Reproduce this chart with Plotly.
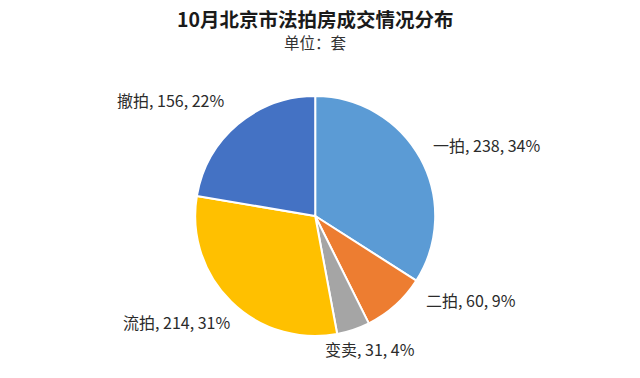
import plotly.graph_objects as go

categories = ["一拍", "二拍", "变卖", "流拍", "撤拍"]
values = [238, 60, 31, 214, 156]
percents = ["34%", "9%", "4%", "31%", "22%"]
colors = ["#5B9BD5", "#ED7D31", "#A5A5A5", "#FFC000", "#4472C4"]

# label placement (paper coords) for each category's data label
label_x = [486 / 640, 471 / 640, 370 / 640, 176 / 640, 170 / 640]
label_y = [1 - 145 / 378, 1 - 300 / 378, 1 - 349 / 378, 1 - 322 / 378, 1 - 100 / 378]

texts = [f"{c}, {v}, {p}" for c, v, p in zip(categories, values, percents)]

fig = go.Figure(go.Pie(
    labels=categories,
    values=values,
    textinfo="none",
    sort=False,
    direction="clockwise",
    rotation=0,
    marker=dict(colors=colors, line=dict(color="white", width=2)),
    domain=dict(x=[0.305, 0.680], y=[0.111, 0.746]),
    showlegend=False,
    hoverinfo="label+value+percent",
))

annotations = [
    dict(text="<b>10月北京市法拍房成交情况分布</b>", x=315 / 640, y=1 - 19 / 378,
         xref="paper", yref="paper", showarrow=False,
         font=dict(family="Noto Sans CJK SC", size=19.5, color="#1a1a1a"),
         xanchor="center", yanchor="middle"),
    dict(text="单位：套", x=315 / 640, y=1 - 42 / 378,
         xref="paper", yref="paper", showarrow=False,
         font=dict(family="Noto Sans CJK SC", size=15.5, color="#333333"),
         xanchor="center", yanchor="middle"),
]
for t, lx, ly in zip(texts, label_x, label_y):
    annotations.append(dict(text=t, x=lx, y=ly, xref="paper", yref="paper",
                            showarrow=False, xanchor="center", yanchor="middle",
                            font=dict(family="Noto Sans CJK SC", size=16, color="#2b2b2b")))

fig.update_layout(
    width=640, height=378,
    margin=dict(l=0, r=0, t=0, b=0),
    paper_bgcolor="white",
    plot_bgcolor="white",
    annotations=annotations,
)

fig.write_html("out.html", config={"displayModeBar": False},
               post_script="document.body.style.margin='0';")
